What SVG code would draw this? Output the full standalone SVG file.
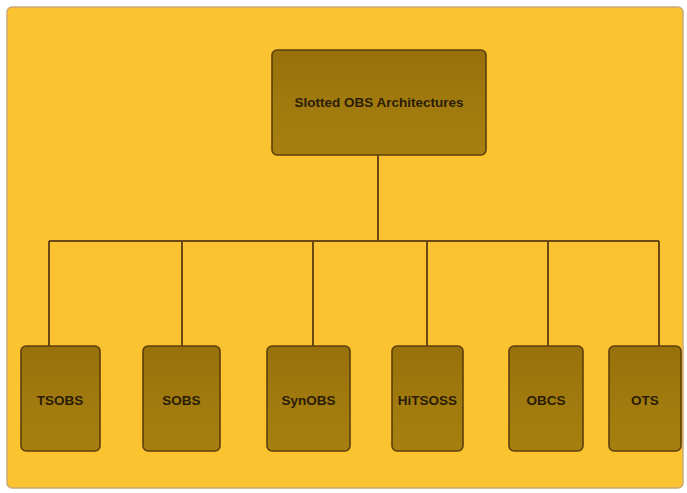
<svg xmlns="http://www.w3.org/2000/svg" width="687" height="493" viewBox="0 0 687 493">
  <style>
    .panel { fill: #fcc331; stroke: #c9a876; stroke-width: 1.5; }
    .box { fill: url(#boxFill); stroke: #5c3f0c; stroke-width: 1.6; }
    .label { font-family: "Liberation Sans", Arial, sans-serif; font-weight: bold; font-size: 13.5px; fill: #2b1c06; text-anchor: middle; }
    .wire { fill: none; stroke: #6a4a14; stroke-width: 2; }
  </style>
  <defs>
    <linearGradient id="boxFill" x1="0" y1="0" x2="0" y2="1">
      <stop offset="0" stop-color="#97700a"/>
      <stop offset="0.5" stop-color="#a07a0e"/>
      <stop offset="1" stop-color="#a67f10"/>
    </linearGradient>
  </defs>

  <rect width="687" height="493" fill="#ffffff"/>
  <rect class="panel" x="7" y="7" width="676" height="481" rx="5"/>

  <!-- connectors -->
  <g id="connectors">
    <path class="wire" d="M378 155 V241"/>
    <path class="wire" d="M49 241 H659"/>
    <path class="wire" d="M49 241 V346 M182 241 V346 M313 241 V346 M427 241 V346 M548 241 V346 M659 241 V346"/>
  </g>

  <!-- root -->
  <g id="root">
    <rect class="box" x="272" y="50" width="214" height="105" rx="5"/>
    <text class="label" x="379" y="107">Slotted OBS Architectures</text>
  </g>

  <!-- leaves -->
  <g id="tsobs">
    <rect class="box" x="21" y="346" width="79" height="105" rx="5"/>
    <text class="label" x="60" y="405">TSOBS</text>
  </g>
  <g id="sobs">
    <rect class="box" x="143" y="346" width="77" height="105" rx="5"/>
    <text class="label" x="181.5" y="405">SOBS</text>
  </g>
  <g id="synobs">
    <rect class="box" x="267" y="346" width="83" height="105" rx="5"/>
    <text class="label" x="308.5" y="405">SynOBS</text>
  </g>
  <g id="hitsoss">
    <rect class="box" x="392" y="346" width="71" height="105" rx="5"/>
    <text class="label" x="427.5" y="405">HiTSOSS</text>
  </g>
  <g id="obcs">
    <rect class="box" x="509" y="346" width="74" height="105" rx="5"/>
    <text class="label" x="546" y="405">OBCS</text>
  </g>
  <g id="ots">
    <rect class="box" x="609" y="346" width="72" height="105" rx="5"/>
    <text class="label" x="645" y="405">OTS</text>
  </g>
</svg>
